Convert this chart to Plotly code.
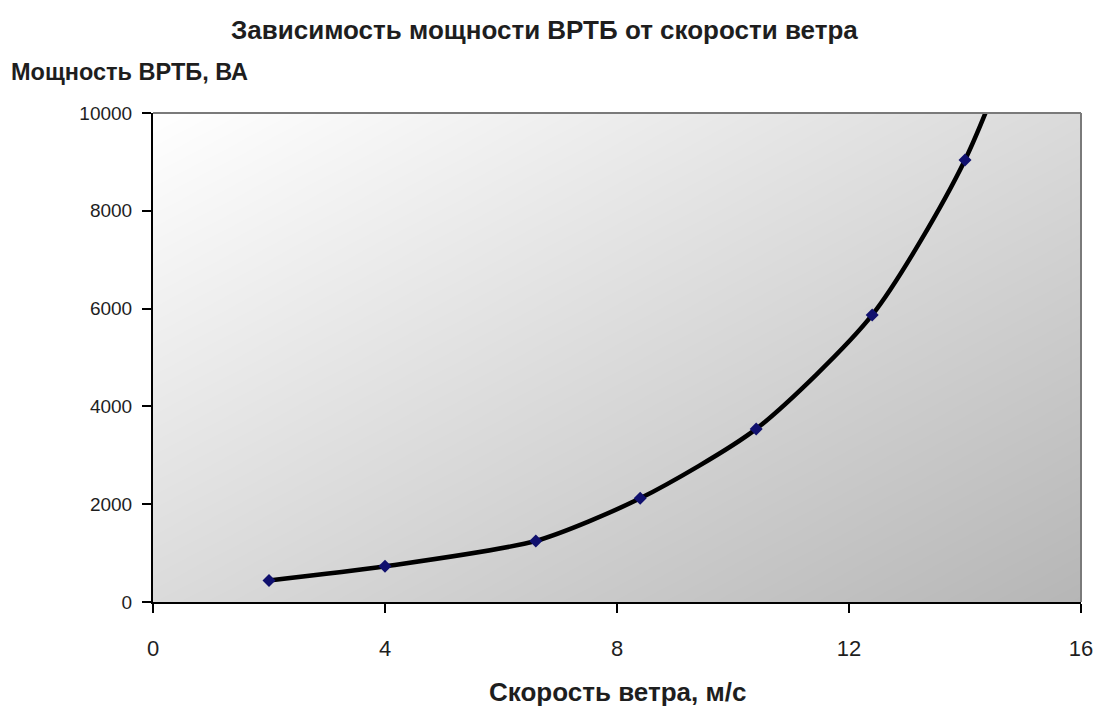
import numpy as np
import plotly.graph_objects as go

# Wind speed (m/s) and generator power (VA); the last point lies above the axis limit
wind_speed = [2.0, 4.0, 6.6, 8.4, 10.4, 12.4, 14.0, 16.0]
power_va = [440, 730, 1250, 2120, 3540, 5870, 9040, 15200]

x_ticks = [0, 4, 8, 12, 16]
y_ticks = [0, 2000, 4000, 6000, 8000, 10000]

title_text = "Зависимость мощности ВРТБ от скорости ветра"
y_title = "Мощность ВРТБ, ВА"
x_title = "Скорость ветра, м/с"

FONT = "Liberation Sans, Arial, sans-serif"
TXT = "#1e1e1e"

# Diagonal grey shading of the plotting area (white top-left -> grey bottom-right)
gx = np.linspace(0, 16, 41)
gy = np.linspace(0, 10000, 41)
u = (gx - 0) / 16.0
v = 1.0 - gy / 10000.0
shade = (u[None, :] + v[:, None]) / 2.0

fig = go.Figure()
fig.add_trace(go.Heatmap(
    x=gx, y=gy, z=shade, zmin=0, zmax=1, zsmooth="best",
    colorscale=[[0, "#ffffff"], [1, "#b6b6b6"]],
    showscale=False, hoverinfo="skip",
))
fig.add_trace(go.Scatter(
    x=wind_speed, y=power_va, mode="lines+markers",
    line=dict(color="#000000", width=4.5, shape="spline", smoothing=0.7),
    marker=dict(symbol="diamond", size=10, color="#10106e"),
    cliponaxis=True, showlegend=False,
))

fig.update_xaxes(
    range=[0, 16], tickvals=x_ticks, ticktext=[str(t) for t in x_ticks],
    ticks="outside", ticklen=9, tickwidth=2, tickcolor="#000000",
    showline=True, linecolor="#000000", linewidth=2,
    showgrid=False, zeroline=False,
    tickfont=dict(family=FONT, size=22, color=TXT),
    ticklabelstandoff=17,
)
fig.update_yaxes(
    range=[0, 10000], tickvals=y_ticks, ticktext=[str(t) for t in y_ticks],
    ticks="outside", ticklen=9, tickwidth=2, tickcolor="#000000",
    showline=True, linecolor="#000000", linewidth=2,
    showgrid=False, zeroline=False,
    tickfont=dict(family=FONT, size=19, color=TXT),
    ticklabelstandoff=6,
)

# Grey frame on the top and right sides of the plotting area
fig.add_shape(type="line", xref="x domain", yref="y domain",
              x0=0, x1=1, y0=1, y1=1, line=dict(color="#7a7a7a", width=2))
fig.add_shape(type="line", xref="x domain", yref="y domain",
              x0=1, x1=1, y0=0, y1=1, line=dict(color="#7a7a7a", width=2))

fig.add_annotation(text="<b>" + title_text + "</b>", xref="paper", yref="paper",
                   x=(547 - 153) / (1087 - 153), y=1 + (113 - 30) / 489,
                   xanchor="center", yanchor="middle", showarrow=False,
                   font=dict(family=FONT, size=26, color=TXT))
fig.add_annotation(text="<b>" + y_title + "</b>", xref="paper", yref="paper",
                   x=(8 - 153) / (1087 - 153), y=1 + (113 - 72) / 489,
                   xanchor="left", yanchor="middle", showarrow=False,
                   font=dict(family=FONT, size=23.5, color=TXT))
fig.add_annotation(text="<b>" + x_title + "</b>", xref="paper", yref="paper",
                   x=(620 - 153) / (1087 - 153), y=-(692 - 602) / 489,
                   xanchor="center", yanchor="middle", showarrow=False,
                   font=dict(family=FONT, size=26, color=TXT))

fig.update_layout(
    width=1105, height=706,
    margin=dict(l=153, r=18, t=113, b=104),
    paper_bgcolor="#ffffff", plot_bgcolor="#ffffff",
    showlegend=False,
)

fig.write_html("out.html")
